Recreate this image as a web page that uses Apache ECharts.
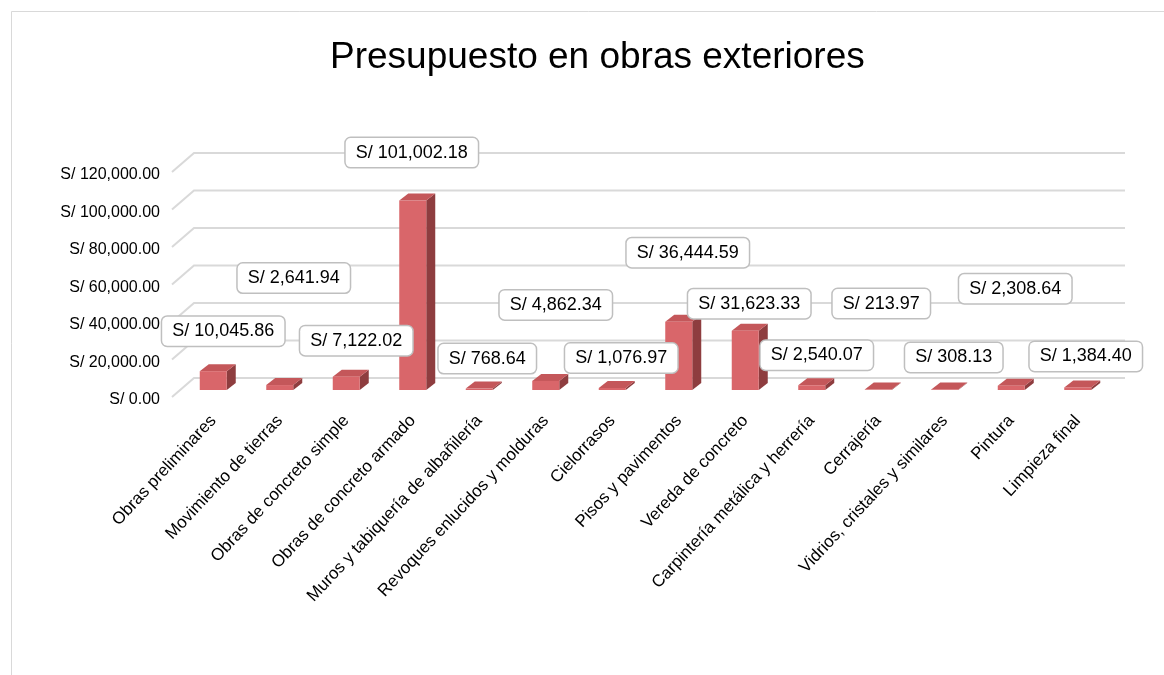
<!DOCTYPE html>
<html>
<head>
<meta charset="utf-8">
<title>Presupuesto en obras exteriores</title>
<script src="https://cdn.jsdelivr.net/npm/echarts@6/dist/echarts.min.js"></script>
<style>
  html, body { margin: 0; padding: 0; background: #ffffff; }
  #chart { width: 1164px; height: 675px; }
</style>
</head>
<body>
<div id="chart"></div>
<script>
// Partidas del presupuesto (categorías del eje X)
const categories = [
  'Obras preliminares',
  'Movimiento de tierras',
  'Obras de concreto simple',
  'Obras de concreto armado',
  'Muros y tabiquería de albañilería',
  'Revoques enlucidos y molduras',
  'Cielorrasos',
  'Pisos y pavimentos',
  'Vereda de concreto',
  'Carpintería metálica y herrería',
  'Cerrajería',
  'Vidrios, cristales y similares',
  'Pintura',
  'Limpieza final'
];

// Montos por partida (S/)
const amounts = [
  10045.86, 2641.94, 7122.02, 101002.18, 768.64, 4862.34, 1076.97,
  36444.59, 31623.33, 2540.07, 213.97, 308.13, 2308.64, 1384.40
];

// Marcas del eje de valores
const valueTicks = [0, 20000, 40000, 60000, 80000, 100000, 120000];

// Desplazamiento de cada etiqueta de dato respecto a la cara superior de su barra (px)
const labelNudge = [
  [10, -40], [14, -107], [10, -36], [-1, -48], [8, -30], [10, -76], [9, -30],
  [9, -69], [4, -27], [5, -30], [3, -86], [9, -32], [4, -97], [8, -31]
];

const FONT = '"Liberation Sans", Arial, Helvetica, sans-serif';

function money(v) {
  const fixed = Math.abs(v).toFixed(2);
  const parts = fixed.split('.');
  const intPart = parts[0].replace(/\B(?=(\d{3})+(?!\d))/g, ',');
  return 'S/ ' + intPart + '.' + parts[1];
}

// Geometría de la perspectiva (px)
const BAR_DEPTH = [9, -7];      // profundidad de cada barra
const WALL_FRONT = [-8, 7];     // borde frontal del piso respecto al plano de las barras
const WALL_BACK = [14, -12];    // pared de fondo respecto al plano de las barras

const chart = echarts.init(document.getElementById('chart'), null, { renderer: 'canvas' });

const barData = amounts.map((v, i) => [i, v]);
const gridData = valueTicks.map(v => [0, v]);

const option = {
  backgroundColor: '#ffffff',
  animation: false,
  title: {
    text: 'Presupuesto en obras exteriores',
    left: 325,
    top: 34,
    textStyle: { fontFamily: FONT, fontSize: 37, fontWeight: 'normal', color: '#000000' }
  },
  graphic: [{
    type: 'rect',
    shape: { x: 11.5, y: 11.5, width: 1180, height: 700 },
    style: { fill: 'none', stroke: '#d9d9d9', lineWidth: 1 },
    silent: true,
    z: -10
  }],
  grid: {
    left: 180,
    width: 931,
    top: 165,
    height: 225,
    containLabel: false,
    outerBoundsMode: 'none'
  },
  xAxis: {
    type: 'category',
    data: categories,
    axisLine: { show: false },
    axisTick: { show: false },
    splitLine: { show: false },
    axisLabel: {
      interval: 0,
      rotate: 47,
      margin: 28,
      fontFamily: FONT,
      fontSize: 17,
      color: '#000000'
    }
  },
  yAxis: {
    type: 'value',
    min: 0,
    max: 120000,
    interval: 20000,
    axisLine: { show: false },
    axisTick: { show: false },
    splitLine: { show: false },
    axisLabel: {
      margin: 20,
      fontFamily: FONT,
      fontSize: 16,
      color: '#000000',
      verticalAlign: 'top',
      lineHeight: 20,
      formatter: v => money(v)
    }
  },
  series: [
    {
      // Líneas de división sobre piso y pared de fondo
      type: 'custom',
      coordinateSystem: 'cartesian2d',
      data: gridData,
      z: 1,
      silent: true,
      renderItem: function (params, api) {
        const cs = params.coordSys;
        const y = api.coord([0, api.value(1)])[1];
        const x0 = cs.x + WALL_FRONT[0];
        const y0 = y + WALL_FRONT[1];
        const x1 = cs.x + WALL_BACK[0];
        const y1 = y + WALL_BACK[1];
        const x2 = cs.x + cs.width + WALL_BACK[0];
        return {
          type: 'polyline',
          shape: { points: [[x0, y0], [x1, y1], [x2, y1]] },
          style: { stroke: '#d9d9d9', lineWidth: 2, fill: null }
        };
      }
    },
    {
      // Barras con efecto 3D: cara frontal, cara superior y lateral
      type: 'custom',
      coordinateSystem: 'cartesian2d',
      data: barData,
      z: 2,
      renderItem: function (params, api) {
        const idx = api.value(0);
        const top = api.coord([idx, api.value(1)]);
        const base = api.coord([idx, 0]);
        const band = api.size([1, 0])[0];
        const w = band * 0.406;
        const xl = top[0] - w / 2;
        const xr = top[0] + w / 2;
        const dx = BAR_DEPTH[0], dy = BAR_DEPTH[1];
        return {
          type: 'group',
          children: [
            {
              type: 'polygon',
              shape: { points: [[xr, top[1]], [xr + dx, top[1] + dy], [xr + dx, base[1] + dy], [xr, base[1]]] },
              style: { fill: '#8e3d3f' }
            },
            {
              type: 'polygon',
              shape: { points: [[xl, top[1]], [xr, top[1]], [xr + dx, top[1] + dy], [xl + dx, top[1] + dy]] },
              style: { fill: '#c4575a' }
            },
            {
              type: 'rect',
              shape: { x: xl, y: top[1], width: w, height: base[1] - top[1] },
              style: { fill: '#d9666a' }
            }
          ]
        };
      }
    },
    {
      // Etiquetas de datos en recuadros
      type: 'custom',
      coordinateSystem: 'cartesian2d',
      data: barData,
      z: 5,
      silent: true,
      renderItem: function (params, api) {
        const idx = api.value(0);
        const v = api.value(1);
        const top = api.coord([idx, v]);
        const n = labelNudge[idx] || [0, -30];
        return {
          type: 'text',
          x: top[0] + n[0],
          y: top[1] + n[1],
          style: {
            text: money(v),
            fill: '#000000',
            font: '18px ' + FONT,
            align: 'center',
            verticalAlign: 'middle',
            backgroundColor: '#ffffff',
            borderColor: '#bfbfbf',
            borderWidth: 1.5,
            borderRadius: 5,
            padding: [6, 10, 5, 10]
          }
        };
      }
    }
  ]
};

chart.setOption(option);
</script>
</body>
</html>
